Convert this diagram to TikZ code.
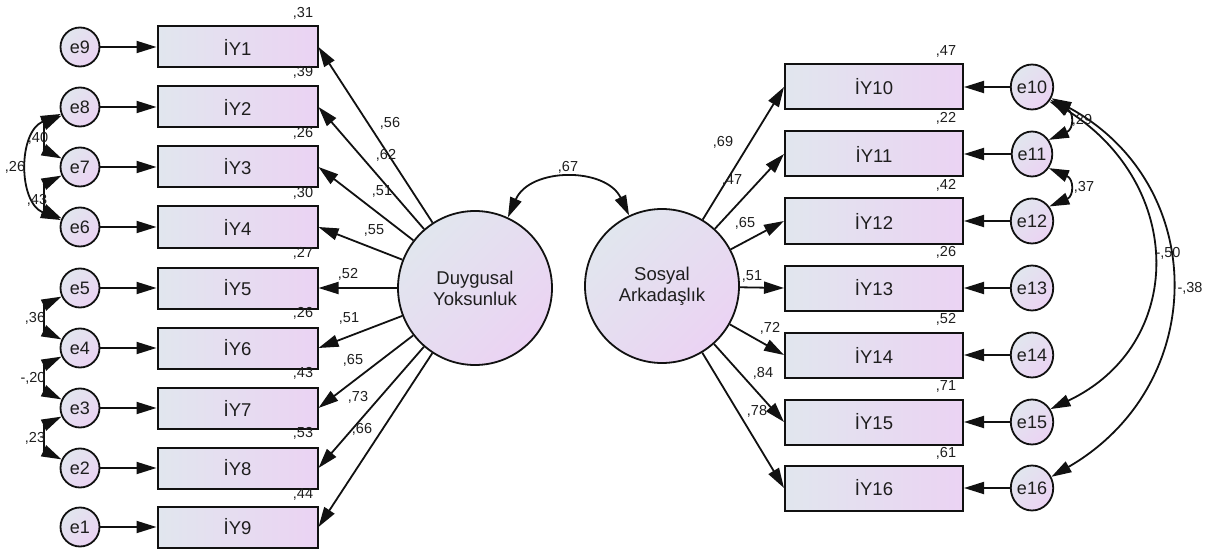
\documentclass[tikz,border=0pt]{standalone}
\usepackage{fontspec}
\setmainfont{Liberation Sans}
\usetikzlibrary{arrows.meta,shapes.geometric}
\definecolor{cL}{HTML}{E1E6EE}
\definecolor{cR}{HTML}{EBD3F3}
\definecolor{txt}{HTML}{1E1E1E}
\definecolor{ink}{HTML}{111111}
\tikzset{
  >={Triangle[length=20pt,width=12pt]},
  obsL/.style={rectangle, draw=ink, line width=2pt, left color=cL, right color=cR,
    minimum width=160, minimum height=41, inner sep=0,
    font=\fontsize{18.5}{20}\selectfont, text=txt},
  obsR/.style={obsL, minimum width=178, minimum height=45},
  errL/.style={circle, draw=ink, line width=1.8pt, top color=cL, bottom color=cR, shading angle=45,
    minimum size=39, inner sep=0, font=\fontsize{18}{20}\selectfont, text=txt},
  errR/.style={ellipse, draw=ink, line width=1.8pt, top color=cL, bottom color=cR, shading angle=45,
    minimum width=37, minimum height=45, inner sep=0, font=\fontsize{18}{20}\selectfont, text=txt},
  lat/.style={circle, draw=ink, line width=1.8pt, top color=cL, bottom color=cR, shading angle=45,
    minimum size=154, inner sep=0, align=center, font=\fontsize{18.5}{21}\selectfont, text=txt},
  lbl/.style={inner sep=0, font=\fontsize{14.5}{16}\selectfont, text=txt},
  reg/.style={->, line width=1.8pt, draw=ink},
  cov/.style={<->, line width=1.8pt, draw=ink},
}
\begin{document}
\begin{tikzpicture}[x=1pt,y=-1pt]
\path[use as bounding box, fill=white] (0,0) rectangle (1210,556);

% latent variables
\node[lat] (DY) at (475,288) {Duygusal\\Yoksunluk};
\node[lat] (SA) at (662,286) {Sosyal\\Arkadaşlık};

% left observed and errors
\foreach \i/\y/\e in {1/47/9,2/107/8,3/167/7,4/227/6,5/288/5,6/348/4,7/408/3,8/468/2,9/527/1}{
  \node[obsL] (IY\i) at (237.5,\y) {İY\i};
  \node[errL] (e\e) at (80,\y) {e\e};
  \draw[reg] (e\e) -- (IY\i);
  \draw[reg] (DY) -- (IY\i.east);
}

% right observed and errors
\foreach \i/\y in {10/87,11/154,12/221,13/288,14/355,15/422,16/488}{
  \node[obsR] (IY\i) at (874,\y) {İY\i};
  \node[errR] (e\i) at (1032,\y) {e\i};
  \draw[reg] (e\i) -- (IY\i);
  \draw[reg] (SA) -- (IY\i.west);
}

% latent covariance
\draw[cov] (DY.65) .. controls (530,167) and (606,167) .. (SA.115);
\node[lbl] (c67) at (568,167) {,67};

% left error covariances
\draw[cov] (e8.205) .. controls (44,124) and (44,150) .. (e7.155);
\draw[cov] (e7.205) .. controls (44,184) and (44,210) .. (e6.155);
\draw[cov] (e8.200) .. controls (18,132) and (18,202) .. (e6.160);
\draw[cov] (e5.205) .. controls (44,305) and (44,331) .. (e4.155);
\draw[cov] (e4.205) .. controls (44,365) and (44,391) .. (e3.155);
\draw[cov] (e3.205) .. controls (44,425) and (44,451) .. (e2.155);
\node[lbl] (c40) at (38,138) {,40};
\node[lbl] (c26) at (15,167) {,26};
\node[lbl] (c43) at (37,200) {,43};
\node[lbl] (c36) at (35,318) {,36};
\node[lbl] (c20) at (33,378) {-,20};
\node[lbl] (c23) at (35,438) {,23};

% right error covariances
\draw[cov] (e10.-40) .. controls (1074,112) and (1074,129) .. (e11.40);
\draw[cov] (e11.-40) .. controls (1074,179) and (1074,196) .. (e12.40);
\draw[cov] (e10.-35) .. controls (1186,185) and (1186,345) .. (e15.35);
\draw[cov] (e10.-30) .. controls (1210,184) and (1210,385) .. (e16.30);
\node[lbl] (c29) at (1082,120) {,29};
\node[lbl] (c37) at (1084,187) {,37};
\node[lbl] (c50) at (1168,253) {-,50};
\node[lbl] (c38) at (1190,288) {-,38};

% left loadings
\node[lbl] (l1) at (390,123) {,56};
\node[lbl] (l2) at (386,155) {,62};
\node[lbl] (l3) at (382,191) {,51};
\node[lbl] (l4) at (374,230) {,55};
\node[lbl] (l5) at (348,274) {,52};
\node[lbl] (l6) at (349,318) {,51};
\node[lbl] (l7) at (353,360) {,65};
\node[lbl] (l8) at (358,397) {,73};
\node[lbl] (l9) at (362,429) {,66};

% right loadings
\node[lbl] (l10) at (723,142) {,69};
\node[lbl] (l11) at (732,180) {,47};
\node[lbl] (l12) at (745,223) {,65};
\node[lbl] (l13) at (752,276) {,51};
\node[lbl] (l14) at (770,328) {,72};
\node[lbl] (l15) at (763,373) {,84};
\node[lbl] (l16) at (757,411) {,78};

% left R2
\node[lbl] (r1) at (303,13) {,31};
\node[lbl] (r2) at (303,72) {,39};
\node[lbl] (r3) at (303,133) {,26};
\node[lbl] (r4) at (303,193) {,30};
\node[lbl] (r5) at (303,253) {,27};
\node[lbl] (r6) at (303,313) {,26};
\node[lbl] (r7) at (303,373) {,43};
\node[lbl] (r8) at (303,433) {,53};
\node[lbl] (r9) at (303,494) {,44};

% right R2
\node[lbl] (r10) at (946,51) {,47};
\node[lbl] (r11) at (946,118) {,22};
\node[lbl] (r12) at (946,185) {,42};
\node[lbl] (r13) at (946,252) {,26};
\node[lbl] (r14) at (946,319) {,52};
\node[lbl] (r15) at (946,386) {,71};
\node[lbl] (r16) at (946,453) {,61};
\end{tikzpicture}
\end{document}
